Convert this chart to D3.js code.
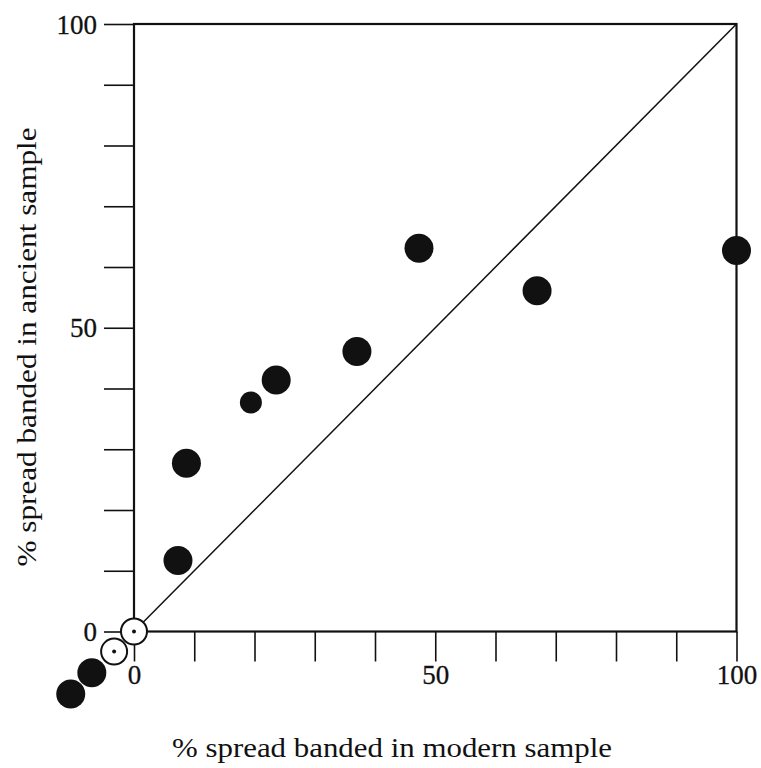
<!DOCTYPE html>
<html>
<head>
<meta charset="utf-8">
<script src="https://cdn.jsdelivr.net/npm/d3@7"></script>
<style>
  html, body { margin: 0; padding: 0; background: #fff; }
  svg { display: block; }
  text { font-family: "Liberation Serif", "Times New Roman", serif; fill: #111; }
</style>
</head>
<body>
<svg id="chart" width="761" height="768"></svg>
<script>
// ---- data ----
const xTicks = [0, 10, 20, 30, 40, 50, 60, 70, 80, 90, 100];
const yTicks = [0, 10, 20, 30, 40, 50, 60, 70, 80, 90, 100];
const tickLabels = [0, 50, 100];
const modern  = [0, -3.3, -7.0, -10.5, 7.3, 8.7, 19.4, 23.6, 37.0, 47.3, 66.9, 100];
const ancient = [0, -3.3, -6.8, -10.3, 11.7, 27.7, 37.7, 41.4, 46.1, 63.1, 56.1, 62.7];
const marker  = ["open", "open", "filled", "filled", "filled", "filled", "small", "filled", "filled", "filled", "filled", "filled"];
const xTitle = "% spread banded in modern sample";
const yTitle = "% spread banded in ancient sample";

// ---- layout ----
const svg = d3.select("#chart");
const x = d3.scaleLinear().domain([0, 100]).range([134, 736.5]);
const y = d3.scaleLinear().domain([0, 100]).range([631.5, 24]);
const ink = "#111";

// left axis ticks
const yAxis = d3.axisLeft(y).tickValues(yTicks).tickSizeInner(30).tickSizeOuter(0)
  .tickPadding(7).tickFormat(d => tickLabels.includes(d) ? d : "");
const gy = svg.append("g").attr("transform", `translate(${x(0)},0)`).call(yAxis);
gy.select(".domain").remove();
gy.selectAll(".tick line").attr("stroke", ink).attr("stroke-width", 1.6);
gy.selectAll(".tick text").attr("font-size", 27).attr("dy", "0.34em")
  .style("font-family", "'Liberation Serif', serif").attr("fill", ink)
  .attr("stroke", ink).attr("stroke-width", 0.3);

// bottom axis ticks
const xAxis = d3.axisBottom(x).tickValues(xTicks).tickSizeInner(30).tickSizeOuter(0)
  .tickPadding(3).tickFormat(d => tickLabels.includes(d) ? d : "");
const gx = svg.append("g").attr("transform", `translate(0,${y(0)})`).call(xAxis);
gx.select(".domain").remove();
gx.selectAll(".tick line").attr("stroke", ink).attr("stroke-width", 1.6);
gx.selectAll(".tick text").attr("font-size", 27)
  .style("font-family", "'Liberation Serif', serif").attr("fill", ink)
  .attr("stroke", ink).attr("stroke-width", 0.3);

// frame
svg.append("rect")
  .attr("x", x(0)).attr("y", y(100))
  .attr("width", x(100) - x(0)).attr("height", y(0) - y(100))
  .attr("fill", "none").attr("stroke", ink).attr("stroke-width", 2.2);

// diagonal 1:1 line
svg.append("line")
  .attr("x1", x(0)).attr("y1", y(0)).attr("x2", x(100)).attr("y2", y(100))
  .attr("stroke", ink).attr("stroke-width", 1.5);

// points
const pts = modern.map((m, i) => ({ m, a: ancient[i], k: marker[i] }));
const rOf = k => k === "small" ? 11 : (k === "open" ? 13 : 14.5);
const g = svg.append("g");
g.selectAll("circle.pt").data(pts).join("circle")
  .attr("class", "pt")
  .attr("cx", d => x(d.m)).attr("cy", d => y(d.a))
  .attr("r", d => rOf(d.k))
  .attr("fill", d => d.k === "open" ? "#fff" : ink)
  .attr("stroke", d => d.k === "open" ? ink : "none")
  .attr("stroke-width", 2);
g.selectAll("circle.dot").data(pts.filter(d => d.k === "open")).join("circle")
  .attr("class", "dot")
  .attr("cx", d => x(d.m)).attr("cy", d => y(d.a)).attr("r", 2)
  .attr("fill", ink);

// axis titles
svg.append("text")
  .attr("x", 392).attr("y", 757)
  .attr("text-anchor", "middle").attr("font-size", 27)
  .attr("textLength", 440).attr("lengthAdjust", "spacingAndGlyphs")
  .text(xTitle);
svg.append("text")
  .attr("transform", "translate(36,347) rotate(-90)")
  .attr("text-anchor", "middle").attr("font-size", 27)
  .attr("textLength", 439).attr("lengthAdjust", "spacingAndGlyphs")
  .text(yTitle);
</script>
</body>
</html>
